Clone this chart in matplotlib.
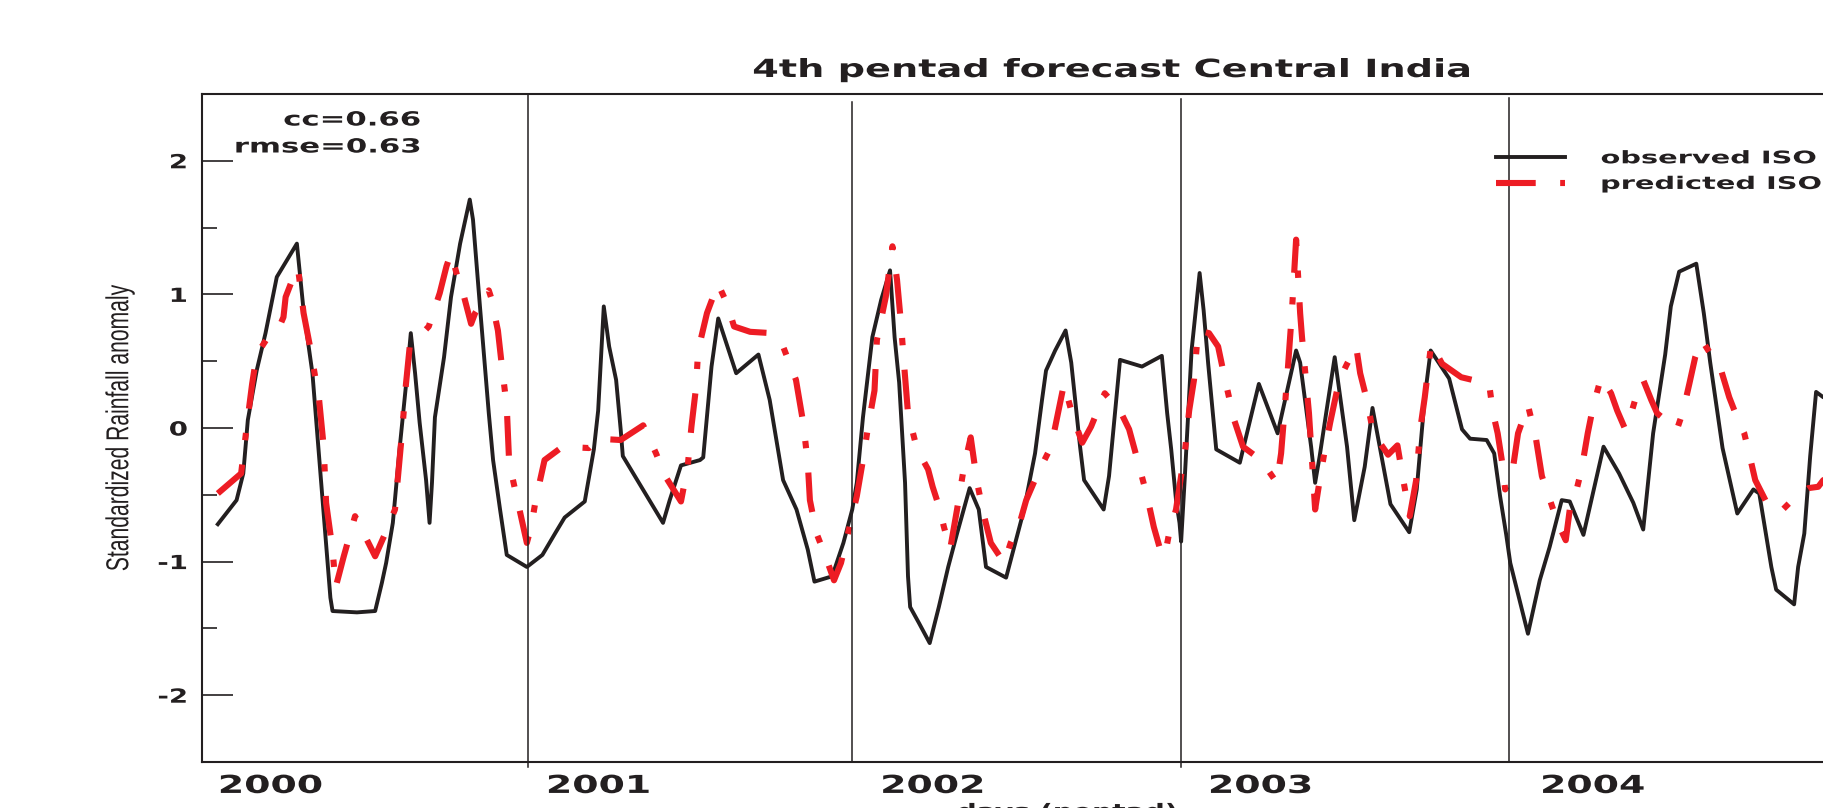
import numpy as np
import matplotlib
matplotlib.use('Agg')
import matplotlib.pyplot as plt
from matplotlib import patheffects, font_manager
from matplotlib.font_manager import FontProperties
from matplotlib.transforms import Affine2D

# Pentad rainfall anomaly over Central India, JJAS of 2000-2004 laid end to end.
# x is the running day count (122 days per season), y the standardized anomaly.
years = ['2000', '2001', '2002', '2003', '2004']
season_start = [0.0, 121.8, 242.5, 365.3, 487.7]

observed = [
    # 2000
    (5.9, -0.72), (12.9, -0.54), (15.4, -0.34), (17.1, 0.06), (20.4, 0.43), (23.7, 0.71),
    (26.2, 0.96), (27.9, 1.13), (31.2, 1.24), (35.4, 1.38), (37.9, 0.88), (41.2, 0.41),
    (44.4, -0.39), (47.9, -1.27), (48.7, -1.37), (57.8, -1.38), (64.6, -1.37), (67.1, -1.16),
    (68.7, -1.01), (71.2, -0.71), (73.7, -0.16), (76.5, 0.40), (77.9, 0.71), (79.5, 0.41),
    (81.2, 0.04), (83.6, -0.39), (84.9, -0.71), (85.8, -0.41), (86.9, 0.08), (90.3, 0.53),
    (92.9, 0.98), (96.3, 1.38), (99.9, 1.71), (101.1, 1.56), (103.7, 0.91), (107.0, 0.11),
    (108.6, -0.24), (111.2, -0.61), (113.7, -0.95), (121.2, -1.04),
    # 2001
    (127.0, -0.95), (132.0, -0.78), (135.3, -0.67), (142.8, -0.55), (146.2, -0.16),
    (147.8, 0.13), (149.9, 0.91), (151.9, 0.61), (154.5, 0.36), (156.2, -0.01), (157.0, -0.21),
    (172.0, -0.71), (174.5, -0.54), (178.7, -0.28), (185.8, -0.24), (187.0, -0.22),
    (190.1, 0.46), (192.6, 0.82), (199.3, 0.41), (207.6, 0.55), (211.8, 0.21), (216.8, -0.39),
    (221.8, -0.61), (226.0, -0.91), (228.5, -1.15), (235.1, -1.11), (239.3, -0.86),
    (242.6, -0.61),
    # 2002
    (244.3, -0.41), (246.6, 0.08), (250.1, 0.68), (253.4, 0.96), (256.7, 1.18), (258.4, 0.68),
    (260.1, 0.34), (262.3, -0.41), (263.4, -1.11), (264.2, -1.34), (267.5, -1.46),
    (271.5, -1.61), (274.9, -1.34), (278.4, -1.04), (281.7, -0.79), (286.4, -0.45),
    (289.8, -0.61), (292.5, -1.04), (300.0, -1.12), (303.4, -0.86), (306.7, -0.61),
    (310.8, -0.19), (313.4, 0.21), (314.9, 0.43), (318.3, 0.58), (322.2, 0.73), (324.3, 0.49),
    (327.6, -0.14), (329.1, -0.39), (336.4, -0.61), (338.4, -0.36), (342.5, 0.51),
    (350.7, 0.46), (358.1, 0.54), (360.1, 0.11), (361.6, -0.16), (363.4, -0.54),
    (364.7, -0.71), (365.3, -0.85),
    # 2003
    (366.7, -0.36), (369.2, 0.58), (372.2, 1.16), (373.7, 0.88), (375.4, 0.48), (378.4, -0.16),
    (387.2, -0.26), (394.3, 0.33), (401.3, -0.04), (408.2, 0.58), (409.7, 0.49), (413.8, -0.14),
    (415.3, -0.41), (417.0, -0.21), (419.4, 0.11), (422.6, 0.53), (427.2, -0.14),
    (429.9, -0.69), (433.8, -0.29), (436.7, 0.15), (439.4, -0.14), (443.4, -0.57),
    (450.4, -0.78), (453.2, -0.46), (456.2, 0.23), (458.4, 0.58), (465.3, 0.37),
    (470.1, -0.01), (473.1, -0.08), (479.3, -0.09), (482.1, -0.19), (484.3, -0.51),
    (486.6, -0.80), (488.1, -1.01),
    # 2004
    (494.7, -1.54), (499.1, -1.14), (502.8, -0.89), (507.3, -0.54), (510.3, -0.55),
    (515.4, -0.80), (522.9, -0.14), (528.7, -0.34), (534.0, -0.56), (537.7, -0.76),
    (541.4, -0.04), (545.9, 0.55), (548.0, 0.91), (551.1, 1.17), (557.5, 1.23), (560.3, 0.86),
    (562.7, 0.49), (567.3, -0.15), (572.8, -0.64), (578.8, -0.46), (581.0, -0.49),
    (585.5, -1.04), (587.3, -1.21), (594.0, -1.32), (595.5, -1.04), (597.8, -0.79),
    (600.0, -0.21), (602.2, 0.27), (604.9, 0.23), (607.5, 0.25),
]

predicted = [
    # 2000
    (5.9, -0.49), (14.6, -0.34), (17.1, 0.08), (18.7, 0.33), (20.4, 0.55), (24.6, 0.68),
    (28.7, 0.75), (30.4, 0.83), (31.2, 0.98), (33.7, 1.11), (35.8, 1.20), (37.9, 0.86),
    (40.3, 0.61), (42.0, 0.41), (43.7, 0.21), (45.4, -0.14), (46.3, -0.56), (48.7, -0.91),
    (49.9, -1.19), (52.9, -0.96), (57.1, -0.66), (64.6, -0.96), (67.9, -0.81), (72.0, -0.61),
    (74.6, -0.04), (76.1, 0.33), (77.5, 0.61), (84.6, 0.76), (88.7, 1.01), (91.2, 1.21),
    (92.9, 1.31), (96.3, 1.06), (97.8, 0.98), (100.4, 0.78), (101.9, 0.86), (107.0, 1.03),
    (107.8, 0.98), (110.4, 0.73), (111.9, 0.46), (113.7, 0.16), (114.6, -0.26),
    (117.9, -0.56), (121.2, -0.86),
    # 2001
    (122.8, -0.74), (124.5, -0.54), (127.8, -0.24), (134.5, -0.14), (144.4, -0.15),
    (147.8, -0.08), (156.2, -0.09), (164.6, 0.02), (169.4, -0.19), (172.8, -0.36),
    (178.7, -0.55), (181.2, -0.29), (182.6, 0.01), (184.3, 0.30), (185.1, 0.58), (188.4, 0.86),
    (192.5, 1.08), (195.9, 0.93), (198.5, 0.76), (204.5, 0.72), (212.6, 0.71), (216.8, 0.61),
    (221.6, 0.36), (224.3, 0.04), (226.0, -0.26), (226.8, -0.54), (229.3, -0.79),
    (232.6, -0.96), (235.8, -1.14), (238.4, -1.01), (241.0, -0.79),
    # 2002
    (244.3, -0.51), (246.6, -0.24), (248.5, 0.01), (250.9, 0.28), (251.8, 0.66), (255.1, 0.98),
    (257.6, 1.36), (259.3, 1.11), (260.8, 0.78), (261.8, 0.51), (263.4, 0.11), (265.9, -0.09),
    (266.8, -0.16), (270.9, -0.31), (272.6, -0.44), (275.0, -0.59), (276.8, -0.74),
    (279.1, -0.91), (281.7, -0.61), (284.3, -0.29), (286.8, -0.07), (289.2, -0.41),
    (291.8, -0.66), (294.3, -0.86), (299.3, -1.01), (301.7, -0.86), (305.1, -0.71),
    (307.5, -0.54), (311.8, -0.34), (316.8, -0.14), (321.6, 0.33), (325.0, 0.08),
    (328.4, -0.11), (331.7, 0.01), (336.8, 0.26), (342.5, 0.13), (345.9, -0.01),
    (349.3, -0.26), (352.6, -0.51), (355.1, -0.74), (357.5, -0.91), (359.2, -0.96),
    (360.8, -0.79), (363.4, -0.61), (364.9, -0.41),
    # 2003
    (366.8, -0.16), (368.3, 0.13), (370.1, 0.36), (371.6, 0.73), (375.7, 0.71), (379.1, 0.61),
    (381.7, 0.36), (385.1, 0.06), (388.4, -0.14), (395.1, -0.24), (401.0, -0.41),
    (402.6, -0.19), (405.0, 0.41), (406.6, 0.86), (408.2, 1.41), (409.0, 1.11), (409.7, 0.86),
    (410.4, 0.68), (411.4, 0.46), (413.0, 0.11), (414.6, -0.39), (415.3, -0.61),
    (417.0, -0.39), (418.7, -0.19), (420.9, 0.04), (424.3, 0.36), (427.2, 0.48), (430.6, 0.61),
    (432.1, 0.41), (434.6, 0.21), (437.0, -0.04), (442.5, -0.20), (446.0, -0.13),
    (448.1, -0.38), (450.6, -0.66), (453.0, -0.39), (454.5, -0.01), (456.2, 0.23),
    (458.6, 0.63), (462.7, 0.48), (469.8, 0.38), (480.2, 0.33), (481.7, 0.11), (483.4, -0.04),
    (485.1, -0.26), (486.2, -0.46),
    # 2004
    (489.1, -0.30), (491.0, -0.04), (494.7, 0.17), (497.6, -0.07), (499.9, -0.36),
    (502.6, -0.52), (505.8, -0.71), (508.8, -0.84), (510.3, -0.61), (512.5, -0.49),
    (514.7, -0.31), (517.0, -0.04), (519.0, 0.16), (522.0, 0.38), (525.7, 0.26), (528.0, 0.13),
    (531.0, -0.01), (532.5, 0.06), (535.4, 0.26), (537.7, 0.36), (540.7, 0.21), (542.9, 0.11),
    (550.3, -0.01), (552.5, 0.12), (554.9, 0.33), (557.1, 0.53), (559.5, 0.66), (564.2, 0.51),
    (566.8, 0.43), (569.8, 0.23), (573.1, 0.06), (575.4, -0.04), (577.2, -0.19),
    (579.5, -0.39), (584.3, -0.58), (588.8, -0.63), (593.3, -0.54), (596.3, -0.49),
    (599.3, -0.45), (603.0, -0.44), (604.9, -0.39), (608.2, -0.36),
]

score_text = 'cc=0.66\nrmse=0.63'

BLACK = '#231f20'
RED = '#ed1c24'


class Widen(patheffects.AbstractPathEffect):
    """Draw text glyphs stretched sideways (the printed figure has wide lettering)."""

    def __init__(self, sx, anchor='center'):
        super().__init__()
        self.sx = sx
        self.anchor = anchor

    def draw_path(self, renderer, gc, tpath, affine, rgbFace=None):
        box = tpath.get_extents(affine)
        x0 = {'left': box.x0, 'center': 0.5 * (box.x0 + box.x1), 'right': box.x1}[self.anchor]
        widen = Affine2D().translate(-x0, 0).scale(self.sx, 1).translate(x0, 0)
        renderer.draw_path(gc, tpath, affine + widen, rgbFace)


# narrow face for the rotated axis title if it is there
try:
    font_manager.findfont(FontProperties(family='Liberation Sans Narrow'), fallback_to_default=False)
    ylab_font, ylab_size, ylab_sx = 'Liberation Sans Narrow', 18.6, 1.25
except ValueError:
    ylab_font, ylab_size, ylab_sx = 'Liberation Sans', 15.2, 1.5

obs = np.array(observed)
pred = np.array(predicted)

W, H = 1823, 808
fig = plt.figure(figsize=(W / 100, H / 100), dpi=100)
ax = fig.add_axes([202 / W, 1 - 762 / H, (1837 - 202) / W, (762 - 94) / H])

ax.plot(obs[:, 0], obs[:, 1], color=BLACK, lw=2.8, label='observed ISO')
ax.plot(pred[:, 0], pred[:, 1], color=RED, lw=4.4, linestyle=(0, (6.5, 4.0, 1.2, 4.0)),
        dash_capstyle='butt', label='predicted ISO')

ax.set_xlim(0, 610)
ax.set_ylim(-2.5, 2.5)
ax.set_xticks([])
ax.set_yticks([-2, -1, 0, 1, 2])
ax.set_yticklabels(['-2', '-1', '0', '1', '2'])
ax.set_yticks([-1.5, -0.5, 0.5, 1.5], minor=True)
ax.tick_params(axis='y', which='major', direction='in', length=22, width=1.2, pad=10.5,
               labelsize=14, colors=BLACK)
ax.tick_params(axis='y', which='minor', direction='in', length=11, width=1.2, colors=BLACK)
for lab in ax.get_yticklabels():
    lab.set_fontweight('bold')
    lab.set_path_effects([Widen(1.42, 'right')])

ax.spines['right'].set_visible(False)
for side in ['left', 'top', 'bottom']:
    ax.spines[side].set_linewidth(1.5)
    ax.spines[side].set_color(BLACK)

# season dividers, a few run a little past the bottom axis
divider_top = [1.0, 0.988, 0.992, 0.994]
divider_bottom = [-0.008, 0.0, -0.008, 0.0]
for d, top, bot in zip(season_start[1:], divider_top, divider_bottom):
    ax.plot([d, d], [bot, top], transform=ax.get_xaxis_transform(), color=BLACK, lw=1.1,
            clip_on=False)

# year names under each season
year_shift = [6.3, 6.9, 10.9, 10.4, 11.9]
for yr, d, sh in zip(years, season_start, year_shift):
    ax.text(d + sh, -0.0463, yr, transform=ax.get_xaxis_transform(), ha='left', va='baseline',
            fontsize=17.8, fontweight='bold', color=BLACK, path_effects=[Widen(1.53, 'left')])

cc_line, rmse_line = score_text.split('\n')
fig.text(421 / W, 1 - 125.5 / H, cc_line, ha='right', va='baseline', fontsize=14,
         fontweight='bold', color=BLACK, path_effects=[Widen(1.58, 'right')])
fig.text(421 / W, 1 - 152.5 / H, rmse_line, ha='right', va='baseline', fontsize=14,
         fontweight='bold', color=BLACK, path_effects=[Widen(1.58, 'right')])

fig.text(1112.6 / W, 1 - 77 / H, '4th pentad forecast Central India', ha='center',
         va='baseline', fontsize=18, fontweight='bold', color=BLACK,
         path_effects=[Widen(1.53)])

fig.text(120 / W, 1 - 428 / H, 'Standardized Rainfall anomaly', rotation=90, ha='center',
         va='center', family=ylab_font, fontsize=ylab_size, color=BLACK,
         path_effects=[Widen(ylab_sx)])

fig.text(1067 / W, -0.012, 'days (pentad)', ha='center', va='baseline', fontsize=14,
         fontweight='bold', color=BLACK, path_effects=[Widen(1.45)])

leg = ax.legend(loc='upper left', bbox_to_anchor=(1496 / W, 1 - 149.3 / H),
                bbox_transform=fig.transFigure, frameon=False, borderpad=0, borderaxespad=0,
                handlelength=4.0, handletextpad=2.05, labelspacing=0.44,
                prop={'size': 12.5, 'weight': 'bold'})
for t in leg.get_texts():
    t.set_color(BLACK)
    t.set_path_effects([Widen(1.66, 'left')])

fig.savefig('out.png', dpi=100)
